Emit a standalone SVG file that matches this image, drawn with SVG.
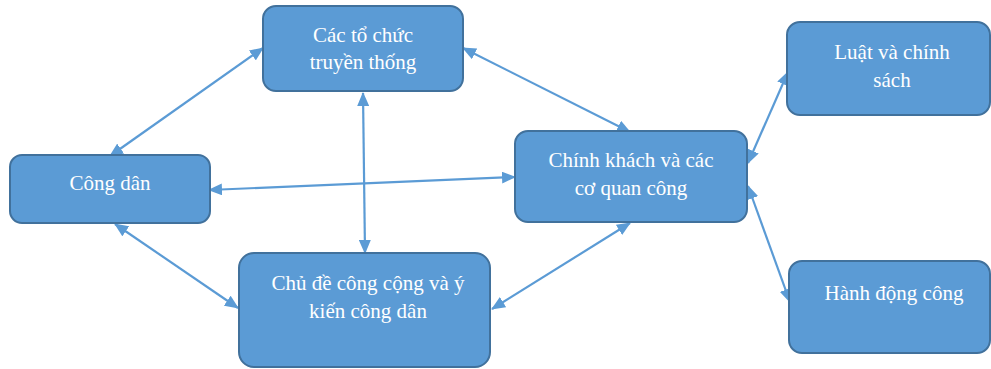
<svg xmlns="http://www.w3.org/2000/svg" width="991" height="369" viewBox="0 0 991 369">
<style>
.box{fill:#5b9bd5;stroke:#41719c;stroke-width:2}
.t{font-family:"Liberation Serif","Times New Roman",serif;font-size:21px;fill:#ffffff;text-anchor:middle}
.c{stroke:#5b9bd5;stroke-width:2.2;fill:none;marker-start:url(#ah);marker-end:url(#ah)}
</style>
<defs>
<marker id="ah" markerUnits="userSpaceOnUse" markerWidth="14" markerHeight="12" refX="13" refY="6" orient="auto-start-reverse" viewBox="0 0 14 12">
<path d="M0,0 L14,6 L0,12 z" fill="#5b9bd5"/>
</marker>
</defs>
<rect width="991" height="369" fill="#ffffff"/>
<g id="connectors">
<line class="c" x1="263" y1="48" x2="110" y2="156"/>
<line class="c" x1="463" y1="48" x2="630" y2="132"/>
<line class="c" x1="363" y1="93" x2="365" y2="253"/>
<line class="c" x1="209" y1="190" x2="515" y2="177"/>
<line class="c" x1="115" y1="224" x2="238" y2="308"/>
<line class="c" x1="630" y1="223" x2="492" y2="309"/>
<line class="c" x1="748" y1="163" x2="788" y2="72"/>
<line class="c" x1="748" y1="186" x2="790" y2="302"/>
</g>
<g id="n1">
<rect class="box" x="263" y="6" width="200" height="85" rx="13"/>
<text class="t" x="363" y="42">Các tổ chức</text>
<text class="t" x="363" y="69">truyền thống</text>
</g>
<g id="n2">
<rect class="box" x="10" y="155" width="200" height="68" rx="12"/>
<text class="t" x="110" y="190">Công dân</text>
</g>
<g id="n3">
<rect class="box" x="515" y="131" width="232" height="91" rx="13"/>
<text class="t" x="631" y="167">Chính khách và các</text>
<text class="t" x="631" y="195">cơ quan công</text>
</g>
<g id="n4">
<rect class="box" x="787" y="22" width="203" height="93" rx="13"/>
<text class="t" x="892" y="59">Luật và chính</text>
<text class="t" x="892" y="87">sách</text>
</g>
<g id="n5">
<rect class="box" x="789" y="261" width="201" height="92" rx="13"/>
<text class="t" x="894" y="300">Hành động công</text>
</g>
<g id="n6">
<rect class="box" x="239" y="253" width="251" height="114" rx="15"/>
<text class="t" x="368" y="290">Chủ đề công cộng và ý</text>
<text class="t" x="368" y="318">kiến công dân</text>
</g>
</svg>
